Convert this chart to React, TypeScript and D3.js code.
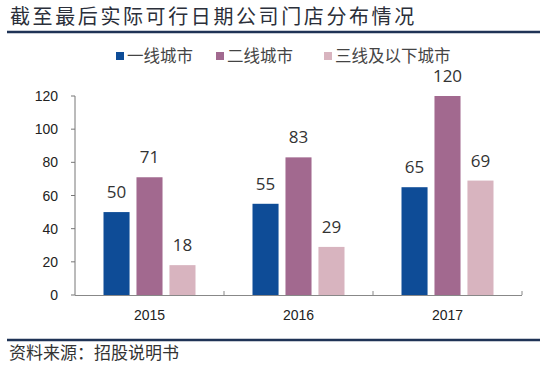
import React from 'react';
import * as d3 from 'd3';

// chart data
const years = ['2015', '2016', '2017'];
const seriesNames = ['一线城市', '二线城市', '三线及以下城市'];
const tier1 = [50, 55, 65];
const tier2 = [71, 83, 120];
const tier3 = [18, 29, 69];
const yTicks = [0, 20, 40, 60, 80, 100, 120];
const colors = ['#0e4c97', '#a2698f', '#d8b4bf'];

const title = '截至最后实际可行日期公司门店分布情况';
const source = '资料来源：招股说明书';

export default function App() {
  const width = 550;
  const height = 365;
  const left = 75;
  const right = 522;
  const top = 96;
  const bottom = 295;

  const series = [tier1, tier2, tier3];

  const x0 = d3.scaleBand<string>().domain(years).range([left, right]).padding(0);
  const x1 = d3.scaleBand<number>().domain([0, 1, 2]).range([-46, 46]).paddingInner(0.21);
  const y = d3.scaleLinear().domain([0, 120]).range([bottom, top]);

  const cjk = '"Noto Sans CJK SC", sans-serif';
  const legendX = [116, 216, 324];

  return (
    <svg
      width={width}
      height={height}
      style={{ position: 'absolute', left: 0, top: 0, background: '#fff' }}
    >
      {/* title */}
      <text x={10} y={24} fontFamily={cjk} fontSize={20} letterSpacing={2.6} fill="#2b2f3a">
        {title}
      </text>
      <line x1={7} x2={540} y1={32} y2={32} stroke="#1f3356" strokeWidth={2.5} />

      {/* legend */}
      {seriesNames.map((name, i) => (
        <g key={name}>
          <rect x={legendX[i]} y={52} width={8} height={8} fill={colors[i]} />
          <text x={legendX[i] + 11} y={61.5} fontFamily={cjk} fontSize={16.5} fill="#444">
            {name}
          </text>
        </g>
      ))}

      {/* y axis */}
      <line x1={left} x2={left} y1={top} y2={bottom} stroke="#777" strokeWidth={1} />
      {yTicks.map((t) => (
        <g key={t}>
          <line x1={left - 4} x2={left} y1={y(t)} y2={y(t)} stroke="#777" />
          <text
            x={58}
            y={y(t) + 5}
            textAnchor="end"
            fontFamily='"Liberation Sans", Arial, sans-serif'
            fontSize={14}
            fill="#222"
          >
            {t}
          </text>
        </g>
      ))}

      {/* bars */}
      {years.map((yr, gi) => {
        const cx = (x0(yr) ?? 0) + x0.bandwidth() / 2;
        return (
          <g key={yr}>
            {series.map((vals, si) => {
              const bx = cx + (x1(si) ?? 0);
              const v = vals[gi];
              return (
                <g key={si}>
                  <rect
                    x={bx}
                    y={y(v)}
                    width={x1.bandwidth()}
                    height={bottom - y(v)}
                    fill={colors[si]}
                  />
                  <text
                    x={bx + x1.bandwidth() / 2}
                    y={y(v) - 14}
                    textAnchor="middle"
                    fontFamily='"Open Sans", sans-serif'
                    fontSize={17}
                    fill="#333"
                  >
                    {v}
                  </text>
                </g>
              );
            })}
          </g>
        );
      })}

      {/* x axis */}
      <line x1={left} x2={right} y1={bottom + 0.5} y2={bottom + 0.5} stroke="#888" />
      {years.map((yr) => {
        const xe = (x0(yr) ?? 0) + x0.bandwidth();
        return <line key={'t' + yr} x1={xe} x2={xe} y1={bottom - 4} y2={bottom} stroke="#888" />;
      })}
      {years.map((yr) => (
        <text
          key={'l' + yr}
          x={(x0(yr) ?? 0) + x0.bandwidth() / 2}
          y={320}
          textAnchor="middle"
          fontFamily='"Liberation Sans", Arial, sans-serif'
          fontSize={14}
          fill="#222"
        >
          {yr}
        </text>
      ))}

      {/* source */}
      <line x1={7} x2={540} y1={340} y2={340} stroke="#1f3356" strokeWidth={2.5} />
      <text x={9} y={359} fontFamily={cjk} fontSize={17} fill="#333">
        {source}
      </text>
    </svg>
  );
}
